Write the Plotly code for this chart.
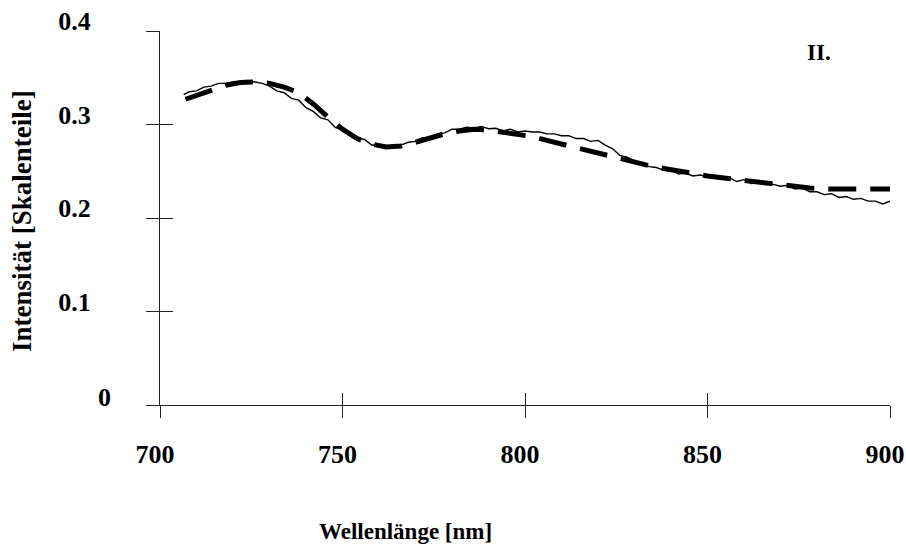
import plotly.graph_objects as go

# Measured spectrum (thin line)
wl_meas = [706.5, 708, 710, 712, 714, 716, 718, 720, 722, 724, 726, 728, 730, 732, 734, 736,
           738, 740, 742, 744, 746, 748, 750, 752, 754, 756, 758, 760, 762, 764, 766, 768,
           770, 772, 774, 776, 778, 780, 782, 784, 786, 788, 790, 792, 794, 796, 798, 800,
           802, 804, 806, 808, 810, 812, 814, 816, 818, 820, 822, 824, 826, 828, 830, 832,
           834, 836, 838, 840, 842, 844, 846, 848, 850, 852, 854, 856, 858, 860, 862, 864,
           866, 868, 870, 872, 874, 876, 878, 880, 882, 884, 886, 888, 890, 892, 894, 896,
           898, 900]
int_meas = [0.332, 0.335, 0.336, 0.340, 0.341, 0.344, 0.344, 0.3455, 0.346, 0.347, 0.3455, 0.344,
            0.341, 0.336, 0.334, 0.328, 0.326, 0.318, 0.314, 0.307, 0.305, 0.297, 0.294, 0.291,
            0.286, 0.284, 0.278, 0.278, 0.276, 0.278, 0.278, 0.281, 0.282, 0.286, 0.286, 0.290,
            0.291, 0.295, 0.295, 0.297, 0.296, 0.298, 0.2955, 0.296, 0.293, 0.295, 0.292, 0.293,
            0.292, 0.292, 0.290, 0.290, 0.288, 0.288, 0.285, 0.285, 0.282, 0.283, 0.278, 0.274,
            0.267, 0.265, 0.261, 0.259, 0.255, 0.254, 0.251, 0.252, 0.247, 0.248, 0.245, 0.246,
            0.244, 0.245, 0.242, 0.243, 0.239, 0.241, 0.237, 0.238, 0.236, 0.236, 0.234, 0.235,
            0.231, 0.232, 0.228, 0.228, 0.225, 0.226, 0.222, 0.223, 0.220, 0.221, 0.218, 0.218,
            0.215, 0.218]

# Calculated spectrum (thick dashed line)
wl_calc = [707, 710, 714, 718, 722, 726, 730, 734, 738, 742, 746, 750, 754, 758, 762, 766,
           770, 774, 778, 782, 786, 790, 794, 798, 802, 806, 810, 814, 818, 822, 826, 830,
           834, 838, 842, 846, 850, 854, 858, 862, 866, 870, 874, 878, 882, 886, 890, 894,
           898, 900]
int_calc = [0.327, 0.331, 0.337, 0.342, 0.345, 0.3455, 0.344, 0.340, 0.334, 0.322, 0.308, 0.295,
            0.285, 0.279, 0.276, 0.277, 0.281, 0.286, 0.290, 0.293, 0.295, 0.294, 0.292, 0.290,
            0.287, 0.283, 0.279, 0.276, 0.272, 0.268, 0.264, 0.260, 0.256, 0.253, 0.250, 0.247,
            0.245, 0.243, 0.241, 0.239, 0.237, 0.235, 0.234, 0.232, 0.231, 0.231, 0.230, 0.230,
            0.230, 0.231]

x_ticks = [700, 750, 800, 850, 900]
y_ticks = [0, 0.1, 0.2, 0.3, 0.4]
y_tick_text = ["", "0.1", "0.2", "0.3", "0.4"]   # the zero label sits on its own axis
y_zero_text = ["0"]

SERIF = "Liberation Serif, Times New Roman, serif"
AX = "#222"

fig = go.Figure()
fig.add_trace(go.Scatter(x=wl_calc, y=int_calc, mode="lines",
                         line=dict(color="black", width=5, dash="28px,14px"),
                         showlegend=False))
fig.add_trace(go.Scatter(x=wl_meas, y=int_meas, mode="lines",
                         line=dict(color="black", width=1.4),
                         showlegend=False))
# invisible traces on the overlay axes (inner tick halves, zero label)
fig.add_trace(go.Scatter(x=[800], y=[0.2], xaxis="x2", yaxis="y2", mode="markers",
                         marker=dict(opacity=0), showlegend=False, hoverinfo="skip"))
fig.add_trace(go.Scatter(x=[800], y=[0.2], xaxis="x2", yaxis="y3", mode="markers",
                         marker=dict(opacity=0), showlegend=False, hoverinfo="skip"))

tick_font = dict(family=SERIF, size=26, color="black", weight="bold")

fig.update_layout(
    width=906, height=551,
    margin=dict(l=160, r=16, t=31, b=146, autoexpand=False),
    paper_bgcolor="white", plot_bgcolor="white",
    xaxis=dict(range=[700, 900], tickvals=x_ticks, ticks="outside", ticklen=12,
               tickwidth=1, tickcolor=AX, showline=True, linecolor=AX,
               linewidth=1, showgrid=False, zeroline=False, tickfont=tick_font,
               ticklabelstandoff=14, ticklabelshift=-5, automargin=False),
    yaxis=dict(range=[0, 0.4], tickvals=y_ticks, ticktext=y_tick_text, ticks="outside",
               ticklen=13, tickwidth=1, tickcolor=AX, showline=True,
               linecolor=AX, linewidth=1, showgrid=False, zeroline=False,
               tickfont=tick_font, ticklabelstandoff=50, ticklabelshift=-10,
               automargin=False),
    xaxis2=dict(overlaying="x", matches="x", anchor="y2", range=[700, 900],
                tickvals=x_ticks, ticks="inside", ticklen=12, tickwidth=1,
                tickcolor=AX, showticklabels=False, showline=False,
                showgrid=False, zeroline=False, automargin=False),
    yaxis2=dict(overlaying="y", matches="y", anchor="x2", range=[0, 0.4],
                tickvals=y_ticks, ticks="inside", ticklen=13, tickwidth=1,
                tickcolor=AX, showticklabels=False, showline=False,
                showgrid=False, zeroline=False, automargin=False),
    yaxis3=dict(overlaying="y", matches="y", anchor="x2", range=[0, 0.4],
                tickvals=[0], ticktext=y_zero_text, ticks="", showticklabels=True,
                tickfont=tick_font, ticklabelstandoff=48, ticklabelshift=-8,
                showline=False, showgrid=False, zeroline=False, automargin=False),
    annotations=[
        dict(text="Wellenlänge [nm]", xref="paper", yref="paper",
             x=(405 - 160) / 730, y=-(531 - 405) / 374, xanchor="center", yanchor="middle",
             showarrow=False, font=dict(family=SERIF, size=23, color="black", weight="bold")),
        dict(text="Intensität [Skalenteile]", xref="paper", yref="paper",
             x=-(160 - 22) / 730, y=(405 - 221) / 374, xanchor="center", yanchor="middle",
             textangle=-90, showarrow=False,
             font=dict(family=SERIF, size=27, color="black", weight="bold")),
        dict(text="II.", xref="paper", yref="paper",
             x=(819 - 160) / 730, y=(405 - 52) / 374, xanchor="center", yanchor="middle",
             showarrow=False, font=dict(family=SERIF, size=23, color="black", weight="bold")),
    ],
)

fig.write_html("out.html")
